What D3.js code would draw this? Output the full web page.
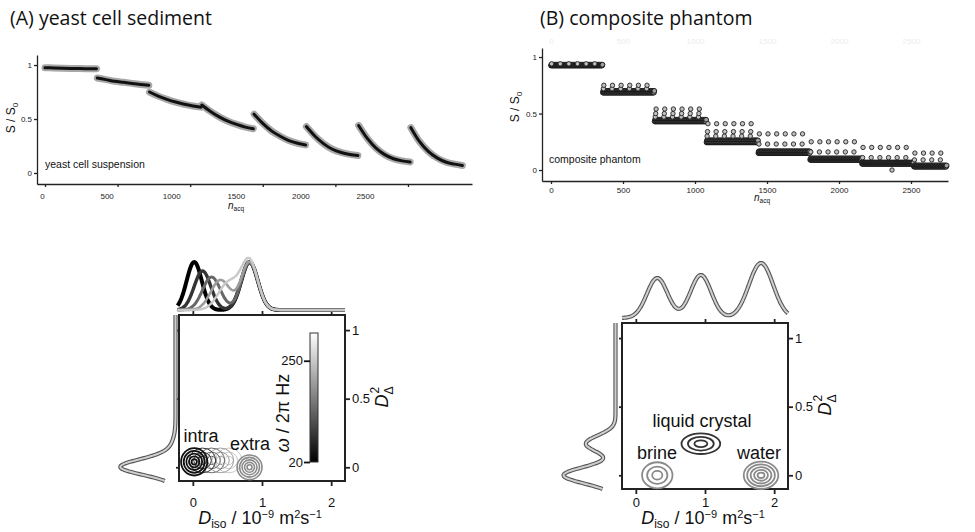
<!DOCTYPE html>
<html><head><meta charset="utf-8">
<script src="https://cdn.jsdelivr.net/npm/d3@7"></script>
<style>
body{margin:0;background:#fff}
svg{display:block}
text{font-family:"Liberation Sans",Arial,Helvetica,sans-serif}
</style>
</head><body>
<svg id="c" width="975" height="532"></svg>
<script>
// ================= DATA =================
const panelTitles = ["(A) yeast cell sediment", "(B) composite phantom"];
const insetLabels = ["yeast cell suspension", "composite phantom"];
const nacqTicks = [0, 500, 1000, 1500, 2000, 2500];
const sTicks = [0, 0.5, 1];

// (A) top: signal attenuation, 8 acquisition blocks of 360, sampled values
const yeastSegLength = 360;
const yeastSegOffsets = [0, 60, 120, 180, 240, 300, 355];
const yeastSeg1 = [0.975, 0.973, 0.971, 0.969, 0.967, 0.966, 0.965];
const yeastSeg2 = [0.880, 0.865, 0.850, 0.840, 0.830, 0.820, 0.812];
const yeastSeg3 = [0.750, 0.712, 0.682, 0.657, 0.637, 0.620, 0.610];
const yeastSeg4 = [0.630, 0.570, 0.520, 0.480, 0.450, 0.425, 0.410];
const yeastSeg5 = [0.545, 0.460, 0.390, 0.340, 0.300, 0.275, 0.260];
const yeastSeg6 = [0.430, 0.340, 0.270, 0.220, 0.190, 0.172, 0.162];
const yeastSeg7 = [0.440, 0.320, 0.230, 0.170, 0.132, 0.112, 0.102];
const yeastSeg8 = [0.420, 0.290, 0.200, 0.140, 0.102, 0.082, 0.070];
const yeastSegments = [yeastSeg1, yeastSeg2, yeastSeg3, yeastSeg4, yeastSeg5, yeastSeg6, yeastSeg7, yeastSeg8];

// (B) top: composite phantom, 8 blocks, 6 sub-blocks of 60 acquisitions each
const phantomSegLength = [360, 360, 360, 360, 360, 360, 360, 230];
const phantomSubBlock = 60;
const phantomBase     = [0.925, 0.685, 0.430, 0.245, 0.150, 0.090, 0.055, 0.030];
const phantomBaseHigh = [0.932, 0.700, 0.445, 0.262, 0.165, 0.102, 0.066, 0.040];
const phantomUpper1 = [0.940];
const phantomUpper2 = [0.720, 0.750];
const phantomUpper3 = [0.470, 0.500, 0.540];
const phantomUpper4 = [0.300, 0.340, 0.410];
const phantomUpper5 = [0.230, 0.320];
const phantomUpper6 = [0.160, 0.250];
const phantomUpper7 = [0.110, 0.200];
const phantomUpper8 = [0.090, 0.150];
const phantomUppers = [phantomUpper1, phantomUpper2, phantomUpper3, phantomUpper4, phantomUpper5, phantomUpper6, phantomUpper7, phantomUpper8];
const phantomOutlierN = [2368];
const phantomOutlierS = [0.0];

// bottom panels: axes
const dIsoTicks = [0, 1, 2];
const dDeltaTicks = [0, 0.5, 1];
const dIsoDomain = [-0.2, 2.2];
const dDeltaDomain = [-0.1, 1.11];

// (A) bottom: frequency-resolved components
const omegaHz = [20, 80, 140, 200, 250];
const omegaTicks = [20, 250];
const omegaDomain = [20, 313];
const intraDiso = [0.02, 0.14, 0.27, 0.40, 0.52];
const intraDdelta = [0.04, 0.05, 0.05, 0.05, 0.05];
const intraAmp = [0.96, 0.78, 0.66, 0.60, 0.55];
const intraSigma = [0.11, 0.12, 0.13, 0.14, 0.15];
const extraDiso = 0.82, extraDdelta = 0.0, extraAmp = 0.96, extraSigma = 0.12;
const yeastDdeltaCenter = [0.0, 0.07];
const yeastDdeltaAmp = [0.95, 0.15];
const yeastDdeltaSigma = [0.055, 0.09];

// (B) bottom: three compartments
const phantomNames = ["brine", "liquid crystal", "water"];
const phantomDiso = [0.31, 0.94, 1.81];
const phantomDdelta = [0.0, 0.23, 0.0];
const phantomIsoAmp = [0.80, 0.86, 1.10];
const phantomIsoSigma = [0.15, 0.15, 0.175];
const phantomDeltaAmp = [0.42, 0.57, 0.58];
const phantomDeltaSigma = [0.06, 0.06, 0.06];
const phantomRx = [0.22, 0.28, 0.25];
const phantomRy = [0.095, 0.075, 0.10];
const phantomRings = [3, 3, 5];
const phantomRingColor = ["#8a8a8a", "#333", "#8a8a8a"];

// ================= DRAW =================
const svg = d3.select("#c");
svg.append("rect").attr("width", 975).attr("height", 532).attr("fill", "#fff");
const fmtInt = d3.format("d");

// titles
svg.append("text").attr("x", 10).attr("y", 25).style("font-family", "'Open Sans',sans-serif").style("font-size", "19.5px").attr("fill", "#111").text(panelTitles[0]);
svg.append("text").attr("x", 540).attr("y", 25).style("font-family", "'Open Sans',sans-serif").style("font-size", "19.5px").attr("fill", "#111").text(panelTitles[1]);

function styleAxis(g, fs) {
  g.selectAll("path,line").attr("stroke", "#222").attr("stroke-width", 1.3);
  g.selectAll("text").style("font-size", fs + "px").attr("fill", "#222");
}

function sLabel(x, y) {
  const t = svg.append("text").attr("transform", `translate(${x},${y}) rotate(-90)`).attr("text-anchor", "middle").style("font-size", "12px").attr("fill", "#111");
  t.append("tspan").text("S / S");
  t.append("tspan").attr("dy", 3).style("font-size", "8px").text("0");
}
function nLabel(x, y) {
  const t = svg.append("text").attr("x", x).attr("y", y).attr("text-anchor", "middle").style("font-size", "10px").attr("fill", "#111");
  t.append("tspan").style("font-style", "italic").text("n");
  t.append("tspan").attr("dy", 2).style("font-size", "6.5px").text("acq");
}

// ---------- (A) top ----------
{
  const x = d3.scaleLinear().domain([-55, 2941]).range([37, 472]);
  const xLab = d3.scaleLinear().domain([0, 2500]).range([42, 365]);
  const y = d3.scaleLinear().domain([-0.102, 1.093]).range([184, 55]);
  const gx = svg.append("g").attr("transform", "translate(0,184)")
    .call(d3.axisBottom(x).tickValues(nacqTicks).tickSize(3).tickSizeOuter(0).tickFormat(""));
  styleAxis(gx, 8);
  const gl = svg.append("g").attr("transform", "translate(0,193)")
    .call(d3.axisBottom(xLab).tickValues(nacqTicks).tickSize(0).tickPadding(0).tickFormat(fmtInt));
  gl.select(".domain").remove();
  styleAxis(gl, 8);
  const gy = svg.append("g").attr("transform", "translate(37,0)")
    .call(d3.axisLeft(y).tickValues(sTicks).tickSize(3).tickSizeOuter(0).tickPadding(2).tickFormat(d3.format("~g")));
  styleAxis(gy, 8);
  sLabel(15, 118);
  nLabel(236, 209);
  svg.append("text").attr("x", 45).attr("y", 168).style("font-size", "10.5px").attr("fill", "#111").text(insetLabels[0]);

  const line = d3.line().x(d => x(d.n)).y(d => y(d.s)).curve(d3.curveMonotoneX);
  const segs = yeastSegments.map((vals, k) => vals.map((s, i) => ({ n: k * yeastSegLength + yeastSegOffsets[i], s })));
  const gd = svg.append("g");
  segs.forEach(seg => {
    gd.append("path").attr("d", line(seg)).attr("fill", "none").attr("stroke", "#a8a8a8").attr("stroke-width", 7).attr("stroke-linecap", "round");
  });
  segs.forEach(seg => {
    gd.append("path").attr("d", line(seg)).attr("fill", "none").attr("stroke", "#111").attr("stroke-width", 3).attr("stroke-linecap", "round");
  });
}

// ---------- (B) top ----------
{
  const x = d3.scaleLinear().domain([-62.5, 2757]).range([542, 948]);
  const y = d3.scaleLinear().domain([-0.097, 1.08]).range([181, 48]);
  const gx = svg.append("g").attr("transform", "translate(0,181)")
    .call(d3.axisBottom(x).tickValues(nacqTicks).tickSize(3).tickSizeOuter(0).tickPadding(3).tickFormat(fmtInt));
  styleAxis(gx, 8);
  const gy = svg.append("g").attr("transform", "translate(542,0)")
    .call(d3.axisLeft(y).tickValues(sTicks).tickSize(3).tickSizeOuter(0).tickPadding(2).tickFormat(d3.format("~g")));
  styleAxis(gy, 8);
  // very faint ghost labels at the top
  const gg = svg.append("g").attr("transform", "translate(0,43)")
    .call(d3.axisBottom(x).tickValues(nacqTicks).tickSize(0).tickPadding(0).tickFormat(fmtInt));
  gg.select(".domain").remove();
  gg.selectAll("text").style("font-size", "8px").style("fill", "#ececec").attr("dy", "0.1em");
  sLabel(519, 107);
  nLabel(762, 201);
  svg.append("text").attr("x", 549).attr("y", 163).style("font-size", "10.5px").attr("fill", "#111").text(insetLabels[1]);

  const base = [], upper = [];
  let start = 0;
  phantomSegLength.forEach((L, s) => {
    for (let b = 0; b * phantomSubBlock < L; b++) {
      const bs = start + b * phantomSubBlock;
      d3.range(0, phantomSubBlock, 5).forEach(off => {
        if (b * phantomSubBlock + off < L) {
          base.push({ n: bs + off, s: phantomBase[s] });
          base.push({ n: bs + off + 2.5, s: phantomBaseHigh[s] });
        }
      });
      phantomUppers[s].forEach((v, i) => upper.push({ n: bs + 4 + i * 3, s: v }));
    }
    start += L;
  });
  phantomOutlierN.forEach((n, i) => upper.push({ n, s: phantomOutlierS[i] }));
  const gd = svg.append("g");
  gd.selectAll("circle.b").data(base).join("circle").attr("class", "b")
    .attr("cx", d => x(d.n)).attr("cy", d => y(d.s)).attr("r", 2.4)
    .attr("fill", "#a0a0a0").attr("stroke", "#111").attr("stroke-width", 0.9);
  gd.selectAll("circle.u").data(upper).join("circle").attr("class", "u")
    .attr("cx", d => x(d.n)).attr("cy", d => y(d.s)).attr("r", 2.2)
    .attr("fill", "#c0c0c0").attr("stroke", "#222").attr("stroke-width", 0.9);
}

// ---------- bottom panels ----------
const gauss = (d, c, a, s) => a * Math.exp(-0.5 * ((d - c) / s) ** 2);
const omegaColor = d3.scaleLinear().domain(omegaDomain).range(["#000", "#fff"]);

function dbl(g, d, wo, wi, outer, inner) {
  g.append("path").attr("d", d).attr("fill", "none").attr("stroke", outer || "#555").attr("stroke-width", wo || 4.2).attr("stroke-linejoin", "round");
  g.append("path").attr("d", d).attr("fill", "none").attr("stroke", inner || "#d4d4d4").attr("stroke-width", wi || 2).attr("stroke-linejoin", "round");
}

function rings(g, bx, by, cx, cy, rx, ry, n, color, sw) {
  for (let k = n; k >= 1; k--) {
    g.append("ellipse")
      .attr("cx", bx(cx)).attr("cy", by(cy))
      .attr("rx", bx(cx + rx * k / n) - bx(cx)).attr("ry", by(cy) - by(cy + ry * k / n))
      .attr("fill", "none").attr("stroke", color).attr("stroke-width", sw);
  }
}

function panel(ox, oy, leftOff, tickPad) {
  const bx = d3.scaleLinear().domain(dIsoDomain).range([ox, ox + 166]);
  const by = d3.scaleLinear().domain(dDeltaDomain).range([oy + 166, oy]);
  const g = svg.append("g");
  const ax = (sel, fs) => { sel.selectAll("path,line").attr("stroke", "#222").attr("stroke-width", 1.8); sel.selectAll("text").style("font-size", fs + "px").attr("fill", "#111"); };
  const gb = g.append("g").attr("transform", `translate(0,${oy + 166})`)
    .call(d3.axisBottom(bx).tickValues(dIsoTicks).tickSize(5).tickPadding(tickPad).tickSizeOuter(0).tickFormat(d3.format("~g")));
  gb.select(".domain").remove(); ax(gb, 13);
  const gt = g.append("g").attr("transform", `translate(0,${oy})`)
    .call(d3.axisTop(bx).tickValues(dIsoTicks).tickSize(4).tickSizeOuter(0).tickFormat(""));
  gt.select(".domain").remove(); ax(gt, 13);
  const gr = g.append("g").attr("transform", `translate(${ox + 166},0)`)
    .call(d3.axisRight(by).tickValues(dDeltaTicks).tickSize(5).tickPadding(2).tickSizeOuter(0).tickFormat(d3.format("~g")));
  gr.select(".domain").remove(); ax(gr, 13);
  const gL = g.append("g").attr("transform", `translate(${ox},0)`)
    .call(d3.axisLeft(by).tickValues(dDeltaTicks).tickSize(3).tickSizeOuter(0).tickFormat(""));
  gL.select(".domain").remove(); ax(gL, 13);
  g.append("rect").attr("x", ox).attr("y", oy).attr("width", 166).attr("height", 166)
    .attr("fill", "none").attr("stroke", "#222").attr("stroke-width", 2);

  // x title
  const t = svg.append("text").attr("x", ox + 81).attr("y", 524).attr("text-anchor", "middle").style("font-size", "18px").attr("fill", "#111");
  t.append("tspan").style("font-style", "italic").text("D");
  t.append("tspan").attr("dy", 4).style("font-size", "12px").text("iso");
  t.append("tspan").attr("dy", -4).text(" / 10");
  t.append("tspan").attr("dy", -6).style("font-size", "11px").text("−9");
  t.append("tspan").attr("dy", 6).text(" m");
  t.append("tspan").attr("dy", -6).style("font-size", "11px").text("2");
  t.append("tspan").attr("dy", 6).text("s");
  t.append("tspan").attr("dy", -6).style("font-size", "11px").text("−1");
  // y title (right)
  const r = svg.append("text").attr("transform", `translate(${ox + 209},${oy + 82}) rotate(-90)`).attr("text-anchor", "middle").style("font-size", "18px").attr("fill", "#111");
  r.append("tspan").style("font-style", "italic").text("D");
  r.append("tspan").attr("dy", 5).style("font-size", "12px").text("Δ");
  r.append("tspan").attr("dx", -7).attr("dy", -14).style("font-size", "12px").text("2");

  const amp = d3.scaleLinear().domain([0, 1]).range([oy - 5, oy - 55]);
  const ampL = d3.scaleLinear().domain([0, 1]).range([ox - leftOff, ox - leftOff - 52]);
  return { bx, by, g, amp, ampL };
}

// ---------- (A) bottom ----------
{
  const ox = 179, oy = 315;
  const { bx, by, g, amp, ampL } = panel(ox, oy, 3.5, 12);
  const grid = d3.range(dIsoDomain[0] - 0.02, 2.2001, 0.01);
  const gridD = d3.range(dDeltaDomain[0], 1.1101, 0.005);
  const lineT = d3.line().x(d => bx(d[0])).y(d => amp(d[1])).curve(d3.curveBasis);
  const widths = [4, 3.4, 3, 2.6, 2.4];
  omegaHz.forEach((w, i) => {
    const pts = grid.map(d => [d, gauss(d, intraDiso[i], intraAmp[i], intraSigma[i]) + gauss(d, extraDiso, extraAmp, extraSigma)]);
    g.append("path").attr("d", lineT(pts)).attr("fill", "none").attr("stroke", omegaColor(w)).attr("stroke-width", widths[i]);
  });
  const lineL = d3.line().x(d => ampL(d[1])).y(d => by(d[0])).curve(d3.curveBasis);
  const ptsL = gridD.map(d => [d, yeastDdeltaCenter.reduce((s, c, i) => s + gauss(d, c, yeastDdeltaAmp[i], yeastDdeltaSigma[i]), 0)]);
  dbl(g, lineL(ptsL), 4.2, 2, "#555", "#cfcfcf");

  const cg = g.append("g");
  for (let i = omegaHz.length - 1; i >= 1; i--) {
    rings(cg, bx, by, intraDiso[i], intraDdelta[i], 0.19, 0.09, 3, omegaColor(omegaHz[i]), 1);
  }
  rings(cg, bx, by, extraDiso, extraDdelta, 0.18, 0.09, 5, "#8a8a8a", 1.6);
  rings(cg, bx, by, intraDiso[0], intraDdelta[0], 0.19, 0.10, 5, "#111", 1.8);

  svg.append("text").attr("x", bx(0.118)).attr("y", by(0.184)).attr("text-anchor", "middle").style("font-size", "18px").attr("fill", "#111").text("intra");
  svg.append("text").attr("x", bx(0.826)).attr("y", by(0.126)).attr("text-anchor", "middle").style("font-size", "18px").attr("fill", "#111").text("extra");

  // colorbar
  const cb = d3.scaleLinear().domain(omegaDomain).range([oy + 147, oy + 18]);
  const defs = svg.append("defs");
  const lg = defs.append("linearGradient").attr("id", "cbg").attr("x1", 0).attr("y1", 1).attr("x2", 0).attr("y2", 0);
  d3.range(0, 1.0001, 0.1).forEach(t => lg.append("stop").attr("offset", t).attr("stop-color", omegaColor(omegaDomain[0] + t * (omegaDomain[1] - omegaDomain[0]))));
  svg.append("rect").attr("x", ox + 131).attr("y", cb(omegaDomain[1])).attr("width", 8)
    .attr("height", cb(omegaDomain[0]) - cb(omegaDomain[1])).attr("fill", "url(#cbg)").attr("stroke", "#333").attr("stroke-width", 1);
  const gc = svg.append("g").attr("transform", `translate(${ox + 131},0)`)
    .call(d3.axisLeft(cb).tickValues(omegaTicks).tickSize(6).tickPadding(1).tickSizeOuter(0));
  gc.select(".domain").remove();
  gc.selectAll("line").attr("stroke", "#111").attr("stroke-width", 1.8);
  gc.selectAll("text").style("font-size", "13px").attr("fill", "#111");
  const ct = svg.append("text").attr("transform", `translate(${ox + 110},${oy + 98}) rotate(-90)`).attr("text-anchor", "middle").style("font-size", "18px").attr("fill", "#111");
  ct.append("tspan").style("font-style", "italic").text("ω");
  ct.append("tspan").text(" / 2π Hz");
}

// ---------- (B) bottom ----------
{
  const ox = 622, oy = 323;
  const { bx, by, g, amp, ampL } = panel(ox, oy, 6.5, 4);
  const grid = d3.range(dIsoDomain[0], 2.2001, 0.01);
  const gridD = d3.range(dDeltaDomain[0], 1.1101, 0.005);
  const lineT = d3.line().x(d => bx(d[0])).y(d => amp(d[1])).curve(d3.curveBasis);
  const ptsT = grid.map(d => [d, phantomDiso.reduce((s, c, i) => s + gauss(d, c, phantomIsoAmp[i], phantomIsoSigma[i]), 0)]);
  dbl(g, lineT(ptsT), 4.2, 2, "#555", "#cfcfcf");
  const lineL = d3.line().x(d => ampL(d[1])).y(d => by(d[0])).curve(d3.curveBasis);
  const ptsL = gridD.map(d => [d, phantomDdelta.reduce((s, c, i) => s + gauss(d, c, phantomDeltaAmp[i], phantomDeltaSigma[i]), 0)]);
  dbl(g, lineL(ptsL), 4.2, 2, "#555", "#cfcfcf");

  const cg = g.append("g");
  phantomNames.forEach((nm, i) => {
    rings(cg, bx, by, phantomDiso[i], phantomDdelta[i], phantomRx[i], phantomRy[i], phantomRings[i], phantomRingColor[i], 1.8);
  });
  const labelPos = [[0.307, 0.119], [0.957, 0.352], [1.782, 0.119]];
  phantomNames.forEach((nm, i) => {
    svg.append("text").attr("x", bx(labelPos[i][0])).attr("y", by(labelPos[i][1])).attr("text-anchor", "middle").style("font-size", "18px").attr("fill", "#111").text(nm);
  });
}
</script>
</body></html>
